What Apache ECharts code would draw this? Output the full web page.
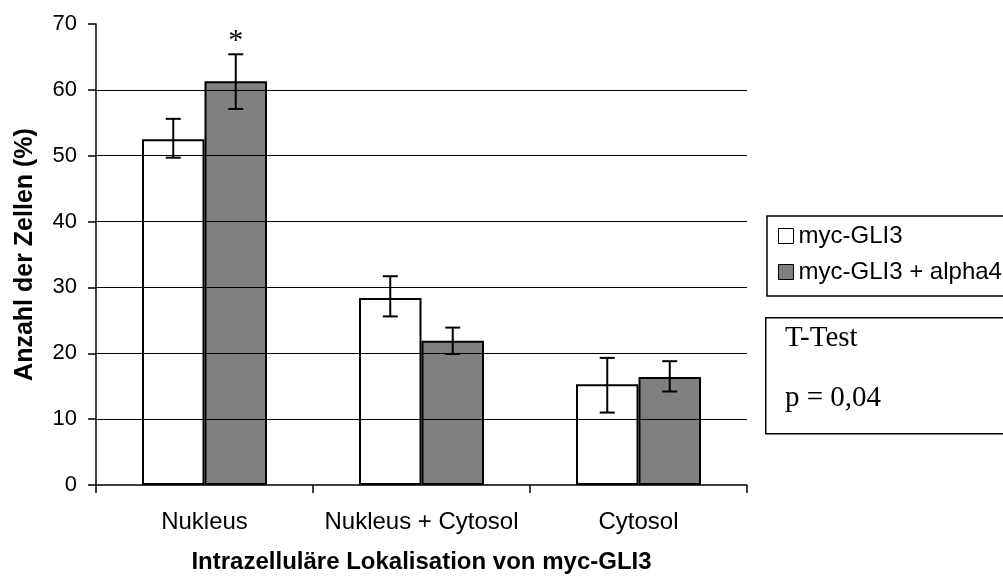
<!DOCTYPE html>
<html><head><meta charset="utf-8">
<script src="https://cdn.jsdelivr.net/npm/echarts@6/dist/echarts.min.js"></script>
<style>html,body{margin:0;padding:0;background:#fff}#c{width:1003px;height:576px}</style>
</head><body><div id="c"></div>
<script>
const categories = ['Nukleus', 'Nukleus + Cytosol', 'Cytosol'];
const seriesNames = ['myc-GLI3', 'myc-GLI3 + alpha4'];
const valuesA = [52.5, 28.4, 15.3];
const errLowA = [49.7, 25.6, 11.0];
const errHighA = [55.6, 31.7, 19.3];
const valuesB = [61.3, 21.9, 16.4];
const errLowB = [57.1, 19.9, 14.2];
const errHighB = [65.4, 23.9, 18.8];
const significanceB = ['*', '', ''];
const gridValues = [10, 20, 30, 40, 50, 60];
const yMin = 0, yMax = 70, yInterval = 10;
const testTitle = 'T-Test';
const testResult = 'p = 0,04';

const SANS = '"Liberation Sans", Arial, sans-serif';
const SERIF = '"Liberation Serif", "Times New Roman", serif';
const BAR_FRAC = 0.288;

function errSeries(name, lows, highs, marks, side) {
  return {
    type: 'custom', name: name + ' err', z: 5,
    data: lows.map((l, i) => [i, l, highs[i], marks ? marks[i] : '']),
    encode: { x: 0, y: [1, 2] },
    renderItem: function (params, api) {
      const i = api.value(0);
      const band = api.size([1, 0])[0];
      const off = side * band * BAR_FRAC / 2;
      const lo = api.coord([i, api.value(1)]);
      const hi = api.coord([i, api.value(2)]);
      const x = lo[0] + off;
      const cap = 7.5;
      const st = { stroke: '#000', lineWidth: 2 };
      const children = [
        { type: 'line', shape: { x1: x, y1: hi[1], x2: x, y2: lo[1] }, style: st },
        { type: 'line', shape: { x1: x - cap, y1: hi[1], x2: x + cap, y2: hi[1] }, style: st },
        { type: 'line', shape: { x1: x - cap, y1: lo[1], x2: x + cap, y2: lo[1] }, style: st }
      ];
      const m = api.value(3);
      if (m) {
        children.push({ type: 'text', style: { text: m, x: x, y: hi[1] + 2, align: 'center', verticalAlign: 'bottom', font: '30px ' + SERIF, fill: '#000' } });
      }
      return { type: 'group', children: children };
    }
  };
}

const chart = echarts.init(document.getElementById('c'), null, { renderer: 'canvas' });
chart.setOption({
  animation: false,
  backgroundColor: '#fff',
  grid: { left: 96, right: 256, top: 24, bottom: 91, containLabel: false, outerBoundsMode: 'none' },
  legend: {
    orient: 'vertical', left: 767, top: 216,
    data: seriesNames,
    borderColor: '#000', borderWidth: 1.5,
    padding: [8, 30, 12, 11],
    itemWidth: 15, itemHeight: 15, itemGap: 12,
    icon: 'rect',
    textStyle: { fontFamily: SANS, fontSize: 24, color: '#000' },
    itemStyle: { borderColor: '#000', borderWidth: 1 }
  },
  xAxis: {
    type: 'category', data: categories,
    axisLine: { lineStyle: { color: '#000', width: 1.5 } },
    axisTick: { show: true, length: 8, alignWithLabel: false, lineStyle: { color: '#000', width: 1.5 } },
    axisLabel: { interval: 0, fontFamily: SANS, fontSize: 24, color: '#000', margin: 25 },
    name: 'Intrazelluläre Lokalisation von myc-GLI3',
    nameLocation: 'middle', nameGap: 65,
    nameTextStyle: { fontFamily: SANS, fontSize: 24, fontWeight: 'bold', color: '#000' }
  },
  yAxis: {
    type: 'value', min: yMin, max: yMax, interval: yInterval,
    axisLine: { show: true, lineStyle: { color: '#000', width: 1.5 } },
    axisTick: { show: true, length: 8, lineStyle: { color: '#000', width: 1.5 } },
    axisLabel: { fontFamily: SANS, fontSize: 22, color: '#000', margin: 19 },
    splitLine: { show: false },
    name: 'Anzahl der Zellen (%)',
    nameLocation: 'middle', nameGap: 58,
    nameTextStyle: { fontFamily: SANS, fontSize: 25, fontWeight: 'bold', color: '#000' }
  },
  series: [
    {
      type: 'line', data: [], z: 1, silent: true,
      markLine: {
        silent: true, symbol: 'none', animation: false,
        label: { show: false },
        lineStyle: { color: '#000', width: 1.2, type: 'solid' },
        data: gridValues.map(v => ({ yAxis: v }))
      }
    },
    {
      type: 'bar', name: seriesNames[0], data: valuesA, z: 3,
      barWidth: (BAR_FRAC * 100) + '%', barGap: '0%',
      itemStyle: { color: '#fff', borderColor: '#000', borderWidth: 2 }
    },
    {
      type: 'bar', name: seriesNames[1], data: valuesB, z: 3,
      barWidth: (BAR_FRAC * 100) + '%', barGap: '0%',
      itemStyle: { color: '#808080', borderColor: '#000', borderWidth: 2 }
    },
    errSeries(seriesNames[0], errLowA, errHighA, null, -1),
    errSeries(seriesNames[1], errLowB, errHighB, significanceB, 1)
  ],
  graphic: [
    { type: 'rect', left: 765, top: 317, shape: { width: 300, height: 116 }, style: { fill: '#fff', stroke: '#000', lineWidth: 1.5 } },
    { type: 'text', left: 785, top: 324, style: { text: testTitle, font: '29px ' + SERIF, fill: '#000' } },
    { type: 'text', left: 785, top: 384, style: { text: testResult, font: '29px ' + SERIF, fill: '#000' } }
  ]
});
</script>
</body></html>
